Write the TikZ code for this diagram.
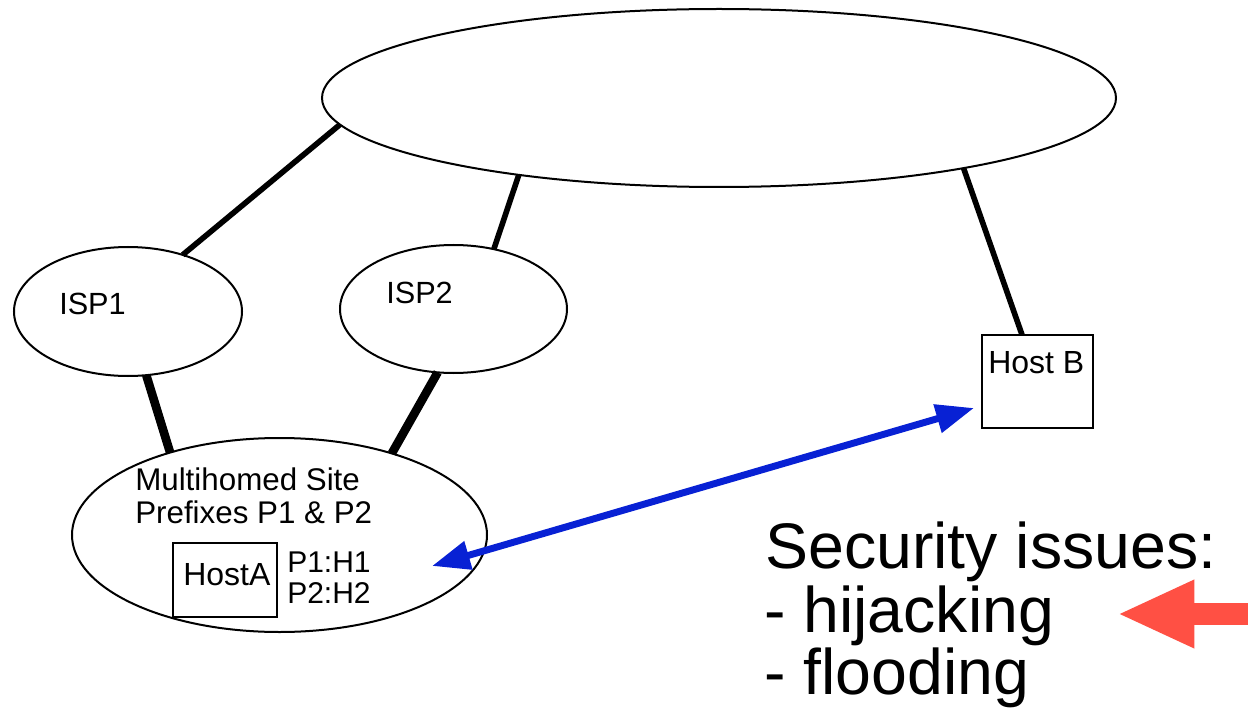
\documentclass[tikz,border=0pt]{standalone}
\usepackage{fontspec}
\setmainfont{Liberation Sans}
\usetikzlibrary{shapes.geometric,arrows.meta}
\definecolor{arrowblue}{RGB}{8,33,212}
\definecolor{arrowred}{RGB}{255,80,68}
\tikzset{
  ell/.style={draw, ellipse, inner sep=0pt, outer sep=0pt, line width=1.5pt},
  hostbox/.style={draw, rectangle, inner sep=0pt, outer sep=0pt, line width=1.5pt},
  txt/.style={anchor=base west, inner sep=0pt, font=\fontsize{23.5}{28}\selectfont},
  link/.style={line width=4.2pt},
  thicklink/.style={line width=6.5pt},
  bigtxt/.style={anchor=base west, inner sep=0pt, font=\fontsize{48.3}{56}\selectfont}
}
\begin{document}
\begin{tikzpicture}[x=0.75pt, y=-0.75pt]
\useasboundingbox (0,0) rectangle (1248,709);

% ellipses
\node[ell, minimum width=595.5pt, minimum height=133.5pt] (cloud) at (719,98) {};
\node[ell, minimum width=171pt, minimum height=96.75pt] (isp1) at (128,311.5) {};
\node[ell, minimum width=170.25pt, minimum height=96pt] (isp2) at (453.5,309) {};
\node[ell, minimum width=311.25pt, minimum height=145.5pt] (site) at (279.5,535) {};

% host boxes
\node[hostbox, minimum width=78pt, minimum height=55.5pt] (hosta) at (225,580) {};
\node[hostbox, minimum width=83.25pt, minimum height=69.75pt] (hostb) at (1037.2,381.5) {};

% texts
\node[txt, font=\fontsize{23}{27}\selectfont] (isp1t) at (59,314) {ISP1};
\node[txt, font=\fontsize{23}{27}\selectfont] (isp2t) at (386,303) {ISP2};
\node[txt] (sitet1) at (135,490) {Multihomed Site};
\node[txt] (sitet2) at (135,523) {Prefixes P1 \& P2};
\node[txt, font=\fontsize{24}{28}\selectfont] (hostat) at (183,585) {HostA};
\node[txt, font=\fontsize{22.5}{26}\selectfont] (p1t) at (287,572) {P1:H1};
\node[txt, font=\fontsize{22.5}{26}\selectfont] (p2t) at (287,603) {P2:H2};
\node[txt, font=\fontsize{24}{28}\selectfont] (hostbt) at (988,373) {Host B};

\node[bigtxt] (sec1) at (765,568) {Security issues:};
\node[bigtxt] (sec2) at (764,632) {- hijacking};
\node[bigtxt] (sec3) at (764,694) {- flooding};

% links
\draw[link] (cloud.184) -- (isp1.46.3);
\draw[link] (cloud.201.4) -- (isp2.56.6);
\draw[link] (cloud.344.5) -- (hostb.108);
\draw[thicklink] (isp1.286.2) -- (site.143.1);
\draw[thicklink] (isp2.256.2) -- (site.36.4);

% blue double arrow
\coordinate (ba) at (432,566);
\coordinate (bb) at (974,408);
\draw[arrowblue, line width=5.2pt,
  {Triangle[length=28.5pt, width=21pt]}-{Triangle[length=28.5pt, width=21pt]}] (ba) -- (bb);

% red arrow
\coordinate (ra) at (1260,614);
\coordinate (rb) at (1117,614);
\draw[arrowred, line width=16.5pt, -{Triangle[length=58pt, width=47pt]}] (ra) -- (rb);
\end{tikzpicture}
\end{document}
